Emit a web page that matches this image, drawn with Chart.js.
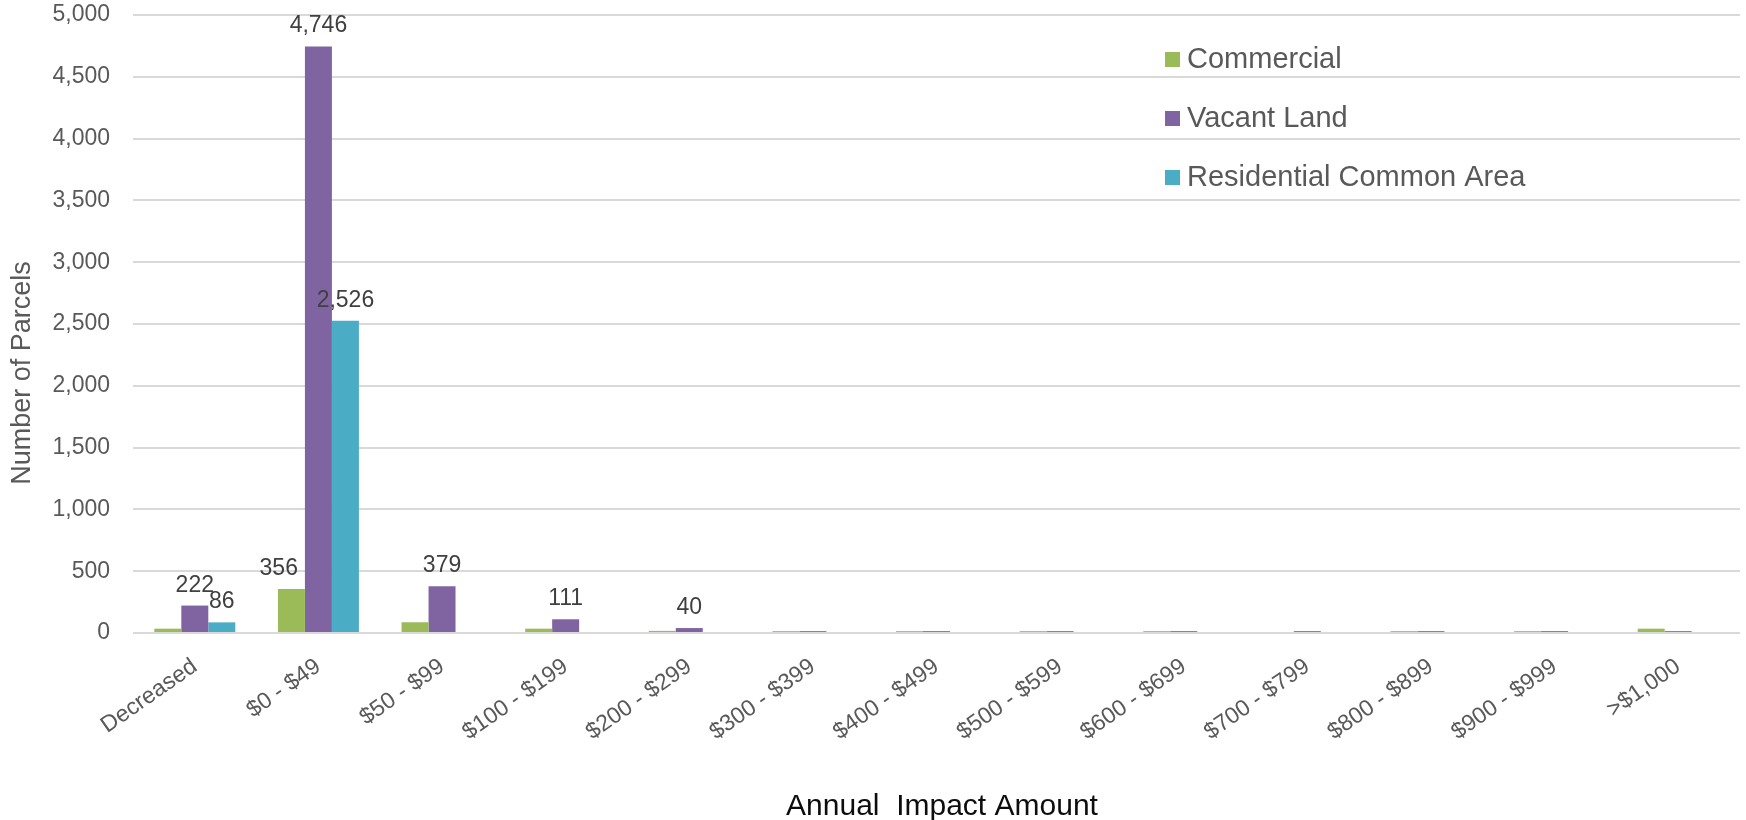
<!DOCTYPE html>
<html>
<head>
<meta charset="utf-8">
<script src="https://cdn.jsdelivr.net/npm/chart.js@4/dist/chart.umd.min.js"></script>
<style>
  html, body { margin: 0; padding: 0; background: #ffffff; }
  #wrap { width: 1746px; height: 820px; }
</style>
</head>
<body>
<div id="wrap"><canvas id="c" width="1746" height="820"></canvas></div>
<script>
// ---- Data ----
const categories = ['Decreased', '$0 - $49', '$50 - $99', '$100 - $199', '$200 - $299', '$300 - $399',
  '$400 - $499', '$500 - $599', '$600 - $699', '$700 - $799', '$800 - $899', '$900 - $999', '>$1,000'];
const seriesNames = ['Commercial', 'Vacant Land', 'Residential Common Area'];
const commercial = [35, 356, 87, 35, 17, 15, 15, 15, 15, 0, 15, 15, 35];
const vacantLand = [222, 4746, 379, 111, 40, 15, 15, 15, 15, 15, 15, 15, 15];
const residentialCommonArea = [86, 2526, 0, 0, 0, 0, 0, 0, 0, 0, 0, 0, 0];
// which values carry a data label in the original
const commercialLabeled = [false, true, false, false, false, false, false, false, false, false, false, false, false];
const vacantLandLabeled = [true, true, true, true, true, false, false, false, false, false, false, false, false];
const residentialLabeled = [true, true, false, false, false, false, false, false, false, false, false, false, false];
const yTicks = [0, 500, 1000, 1500, 2000, 2500, 3000, 3500, 4000, 4500, 5000];
const xTitle = 'Annual  Impact Amount';
const yTitle = 'Number of Parcels';

const FONT = '"Liberation Sans", Arial, Helvetica, sans-serif';
const colors = ['#9BBB59', '#8064A2', '#4BACC6'];
const labelFlags = [commercialLabeled, vacantLandLabeled, residentialLabeled];

const fmt = v => v.toLocaleString('en-US');

const decorPlugin = {
  id: 'decor',
  afterDatasetsDraw(chart) {
    const ctx = chart.ctx;
    ctx.save();
    ctx.font = '23px ' + FONT;
    ctx.fillStyle = '#404040';
    ctx.textAlign = 'center';
    ctx.textBaseline = 'alphabetic';
    const n = chart.data.datasets.length;
    chart.data.datasets.forEach((ds, i) => {
      const meta = chart.getDatasetMeta(i);
      meta.data.forEach((el, j) => {
        if (!labelFlags[i][j]) return;
        const text = fmt(ds.data[j]);
        const w = ctx.measureText(text).width;
        let cx = el.x;
        const base = el.y - 14;
        if (i + 1 < n) {
          const nx = chart.getDatasetMeta(i + 1).data[j];
          const nLeft = nx.x - nx.width / 2;
          if (cx + w / 2 > nLeft && nx.y < base) cx = nLeft - 7 - w / 2;
        }
        ctx.fillText(text, cx, base);
      });
    });
    ctx.restore();
  },
  afterDraw(chart) {
    const ctx = chart.ctx;
    ctx.save();
    // legend inside plot
    ctx.font = '29px ' + FONT;
    ctx.textAlign = 'left';
    ctx.textBaseline = 'alphabetic';
    const lx = 1165, base0 = 68, step = 59;
    chart.data.datasets.forEach((ds, i) => {
      const b = base0 + i * step;
      ctx.fillStyle = ds.backgroundColor;
      ctx.fillRect(lx, b - 16, 15, 15);
      ctx.fillStyle = '#595959';
      ctx.fillText(ds.label, lx + 22, b);
    });
    // y title
    ctx.save();
    ctx.translate(23, 373);
    ctx.rotate(-Math.PI / 2);
    ctx.font = '27px ' + FONT;
    ctx.fillStyle = '#595959';
    ctx.textAlign = 'center';
    ctx.textBaseline = 'middle';
    ctx.fillText(yTitle, 0, 0);
    ctx.restore();
    // x title
    ctx.font = '30px ' + FONT;
    ctx.fillStyle = '#0d0d0d';
    ctx.textAlign = 'center';
    ctx.textBaseline = 'alphabetic';
    ctx.fillText(xTitle, 942, 815);
    ctx.restore();
  }
};

new Chart(document.getElementById('c'), {
  type: 'bar',
  data: {
    labels: categories,
    datasets: [
      { label: seriesNames[0], data: commercial, backgroundColor: colors[0] },
      { label: seriesNames[1], data: vacantLand, backgroundColor: colors[1] },
      { label: seriesNames[2], data: residentialCommonArea, backgroundColor: colors[2] }
    ]
  },
  options: {
    responsive: false,
    devicePixelRatio: 1,
    animation: false,
    layout: { padding: { top: 15, right: 6, bottom: 0, left: 0 } },
    datasets: { bar: { categoryPercentage: 0.655, barPercentage: 1.0, borderWidth: 0 } },
    plugins: { legend: { display: false }, tooltip: { enabled: false } },
    scales: {
      x: {
        grid: { display: false },
        border: { display: false },
        ticks: {
          color: '#595959',
          font: { family: FONT, size: 23 },
          minRotation: 35, maxRotation: 35,
          autoSkip: false,
          padding: 12,
          labelOffset: 0
        },
        afterFit(s) { s.height = 187; s.paddingLeft = 0; s.paddingRight = 0; s.paddingTop = 0; s.paddingBottom = 0; }
      },
      y: {
        min: 0, max: 5000,
        afterBuildTicks(s) { s.ticks = yTicks.map(v => ({ value: v })); },
        grid: { color: '#D9D9D9', lineWidth: 2, drawTicks: false },
        border: { display: false },
        ticks: {
          color: '#595959',
          font: { family: FONT, size: 23 },
          padding: 23,
          callback: v => fmt(v)
        },
        afterFit(s) { s.width = 133; s.paddingTop = 0; s.paddingBottom = 0; s.paddingLeft = 0; s.paddingRight = 0; }
      }
    }
  },
  plugins: [decorPlugin]
});
</script>
</body>
</html>
